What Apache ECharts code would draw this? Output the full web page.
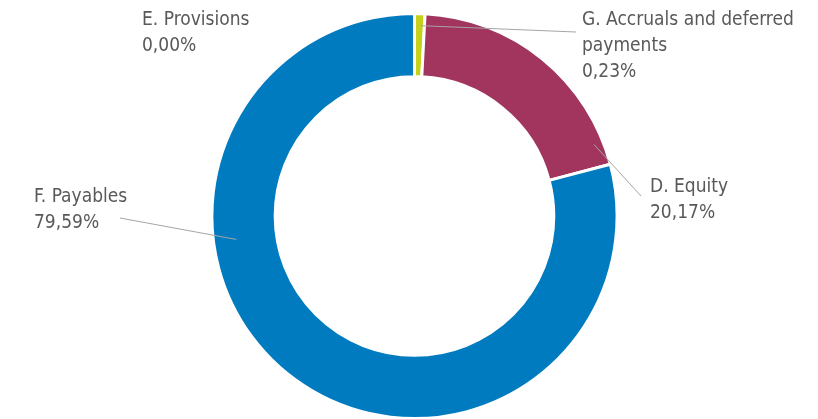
<!DOCTYPE html>
<html>
<head>
<meta charset="utf-8">
<script src="https://cdn.jsdelivr.net/npm/echarts@6/dist/echarts.min.js"></script>
<style>
  html, body { margin: 0; padding: 0; background: #ffffff; }
  #chart { width: 818px; height: 419px; }
</style>
</head>
<body>
<div id="chart"></div>
<script>
// Balance sheet structure (liabilities side), share of total in %
const categories = ['G. Accruals and deferred payments', 'D. Equity', 'F. Payables'];
const shares = [0.23, 20.17, 79.59];
const emptyCategories = ['E. Provisions'];
const emptyShares = [0.00];
const sliceColors = ['#c5d11a', '#a1355e', '#007bc0'];

// ring geometry
const CENTER_X = 0.5067, CENTER_Y = 0.5155;
const INNER = 0.665, OUTER = 0.967;

// where each label sits (left/top of its text, as fractions of the chart box)
// and where its leader starts (angle clockwise from 12 o'clock, fraction of outer radius)
const labelPlacement = {
  'E. Provisions': { left: 142 / 818, top: 7 / 419 },
  'G. Accruals and deferred payments': { left: 582 / 818, top: 7 / 419, from: [1.8, 0.94], to: [576 / 818, 32 / 419] },
  'D. Equity': { left: 650 / 818, top: 174 / 419, from: [68.3, 0.954], to: [641 / 818, 196 / 419] },
  'F. Payables': { left: 34 / 818, top: 184 / 419, from: [262.5, 0.887], to: [120 / 818, 218 / 419] }
};

const fmtPct = v => v.toFixed(2).replace('.', ',') + '%';

// simple word wrap for long category names
function wrap(text, maxChars) {
  const lines = [];
  let cur = '';
  text.split(' ').forEach(w => {
    if (cur && (cur + ' ' + w).length > maxChars) { lines.push(cur); cur = w; }
    else { cur = cur ? cur + ' ' + w : w; }
  });
  if (cur) lines.push(cur);
  return lines.join('\n');
}

const chart = echarts.init(document.getElementById('chart'), null, { renderer: 'canvas' });

function placeLabel(name) {
  const W = chart.getWidth(), H = chart.getHeight();
  const cx = CENTER_X * W, cy = CENTER_Y * H;
  const R = OUTER * Math.min(W, H) / 2;
  const p = labelPlacement[name];
  const out = { x: p.left * W, y: p.top * H, align: 'left', verticalAlign: 'top' };
  if (p.from) {
    const a = p.from[0] * Math.PI / 180;
    const r = p.from[1] * R;
    const s = [cx + r * Math.sin(a), cy - r * Math.cos(a)];
    const e = [p.to[0] * W, p.to[1] * H];
    out.labelLinePoints = [s, [(s[0] + e[0]) / 2, (s[1] + e[1]) / 2], e];
  }
  return out;
}

const ringData = categories.map((name, i) => ({
  name: name,
  value: shares[i],
  itemStyle: { color: sliceColors[i] }
}));

// labels live in an invisible overlay pie so their leaders draw on top of the ring
const labelNames = emptyCategories.concat(categories);
const labelValues = emptyShares.concat(shares);
const labelData = labelNames.map((name, i) => ({
  name: name,
  value: labelValues[i],
  labelLine: { show: !!labelPlacement[name].from }
}));

const center = [(CENTER_X * 100) + '%', (CENTER_Y * 100) + '%'];
const radius = [(INNER * 100) + '%', (OUTER * 100) + '%'];

chart.setOption({
  animation: false,
  backgroundColor: '#ffffff',
  series: [
    {
      type: 'pie',
      z: 2,
      center: center,
      radius: radius,
      startAngle: 90,
      clockwise: true,
      minAngle: 3,
      silent: true,
      itemStyle: { borderColor: '#ffffff', borderWidth: 3 },
      label: { show: false },
      labelLine: { show: false },
      data: ringData
    },
    {
      type: 'pie',
      z: 5,
      center: center,
      radius: radius,
      startAngle: 90,
      silent: true,
      avoidLabelOverlap: false,
      itemStyle: { color: 'rgba(0,0,0,0)', borderWidth: 0 },
      label: {
        show: true,
        position: 'outside',
        color: '#595959',
        fontSize: 19,
        lineHeight: 26,
        fontFamily: '"DejaVu Sans Condensed", "Liberation Sans Narrow", sans-serif',
        formatter: p => wrap(p.name, 24) + '\n' + fmtPct(p.value)
      },
      labelLine: { show: true, smooth: false, lineStyle: { color: '#a6a6a6', width: 1 } },
      labelLayout: params => placeLabel(labelNames[params.dataIndex]),
      data: labelData
    }
  ]
});
</script>
</body>
</html>
